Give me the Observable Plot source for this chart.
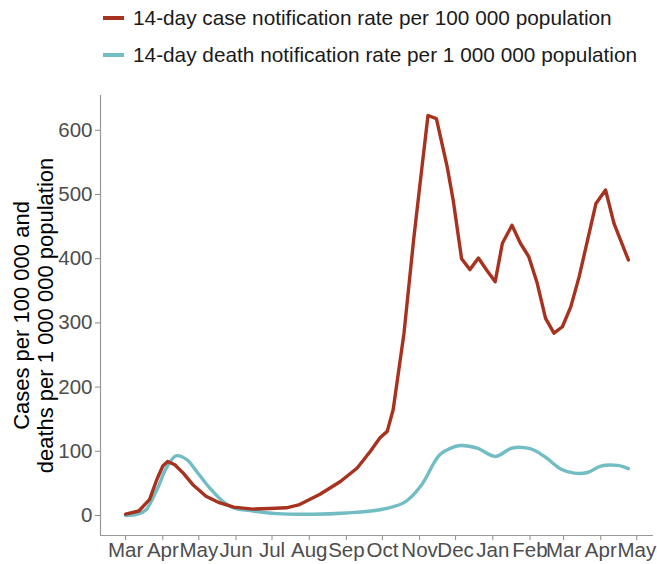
<!DOCTYPE html>
<html>
<head>
<meta charset="utf-8">
<script src="https://cdn.jsdelivr.net/npm/d3@7"></script>
<script src="https://cdn.jsdelivr.net/npm/@observablehq/plot@0.6"></script>
<style>
  html, body { margin: 0; padding: 0; background: #fff; }
  body { width: 657px; height: 564px; overflow: hidden; font-family: "Liberation Sans", Arial, sans-serif; }
  #legend { position: relative; height: 76px; font-size: 20.8px; color: #1a1a1a; }
  .row { position: absolute; left: 103px; display: flex; align-items: center; height: 24px; white-space: nowrap; }
  .sw { width: 21px; height: 4px; margin-right: 9px; }
</style>
</head>
<body>
<div id="legend"></div>
<div id="chart"></div>
<script>
const seriesNames = ["14-day case notification rate per 100 000 population", "14-day death notification rate per 1 000 000 population"];
const seriesColors = ["#a6321f", "#72bcc4"];

const caseDates = ["2020-03-01","2020-03-12","2020-03-21","2020-03-27","2020-04-01","2020-04-05","2020-04-11","2020-04-18","2020-04-26","2020-05-07","2020-05-18","2020-05-30","2020-06-15","2020-06-29","2020-07-13","2020-07-24","2020-08-10","2020-08-27","2020-09-10","2020-09-21","2020-09-29","2020-10-05","2020-10-10","2020-10-19","2020-10-27","2020-11-03","2020-11-08","2020-11-15","2020-11-24","2020-11-29","2020-12-06","2020-12-13","2020-12-20","2020-12-27","2021-01-03","2021-01-09","2021-01-17","2021-01-24","2021-01-31","2021-02-07","2021-02-14","2021-02-21","2021-02-28","2021-03-07","2021-03-14","2021-03-21","2021-03-28","2021-04-05","2021-04-12","2021-04-24"];
const caseValues = [2,7,25,56,77,84,79,66,48,30,20,13,10,11,12,17,33,53,74,100,121,131,165,284,429,543,623,618,543,491,400,383,401,382,364,424,452,424,403,362,307,284,294,325,372,429,486,507,455,398];

const deathDates = ["2020-03-01","2020-03-11","2020-03-18","2020-03-27","2020-04-04","2020-04-12","2020-04-21","2020-04-29","2020-05-10","2020-05-21","2020-05-30","2020-06-15","2020-07-05","2020-08-04","2020-09-01","2020-09-29","2020-10-19","2020-11-02","2020-11-13","2020-11-18","2020-11-27","2020-12-05","2020-12-19","2021-01-03","2021-01-17","2021-02-01","2021-02-13","2021-02-27","2021-03-10","2021-03-21","2021-04-01","2021-04-15","2021-04-24"];
const deathValues = [0,2,9,40,74,93,87,69,43,22,12,7,3,2,4,9,20,46,82,95,105,109,105,92,105,104,92,72,66,67,77,78,73];

const monthTicks = ["2020-03-01","2020-04-01","2020-05-01","2020-06-01","2020-07-01","2020-08-01","2020-09-01","2020-10-01","2020-11-01","2020-12-01","2021-01-01","2021-02-01","2021-03-01","2021-04-01","2021-05-01"];
const yTicks = [0, 100, 200, 300, 400, 500, 600];
const yLabel = "Cases per 100 000 and\ndeaths per 1 000 000 population";

// legend
const legend = document.getElementById("legend");
seriesNames.forEach((name, i) => {
  const row = document.createElement("div");
  row.className = "row";
  row.style.top = (6 + i * 37) + "px";
  const sw = document.createElement("span");
  sw.className = "sw";
  sw.style.background = seriesColors[i];
  const t = document.createElement("span");
  t.textContent = name;
  row.appendChild(sw);
  row.appendChild(t);
  legend.appendChild(row);
});

const cases = caseDates.map((d, i) => ({date: new Date(d), value: caseValues[i]}));
const deaths = deathDates.map((d, i) => ({date: new Date(d), value: deathValues[i]}));

// ggplot-like 5% expansion
const allDates = cases.concat(deaths).map(d => +d.date);
const dMin = d3.min(allDates), dMax = d3.max(allDates);
const dPad = (dMax - dMin) * 0.05;
const xDomain = [new Date(dMin - dPad), new Date(dMax + dPad)];
const allVals = caseValues.concat(deathValues);
const vMin = d3.min(allVals), vMax = d3.max(allVals);
const vPad = (vMax - vMin) * 0.05;
const yDomain = [vMin - vPad, vMax + vPad];

const chart = Plot.plot({
  width: 657,
  height: 488,
  marginLeft: 100,
  marginRight: 4,
  marginTop: 19,
  marginBottom: 29,
  style: {fontFamily: "'Liberation Sans', Arial, sans-serif", fontSize: "20.5px", background: "#fff", overflow: "visible"},
  x: {type: "utc", domain: xDomain},
  y: {domain: yDomain},
  marks: [
    Plot.axisX(monthTicks.map(d => new Date(d)), {tickSize: 5, tickPadding: 2, stroke: "#8a8a8a", fill: "#4d4d4d", tickFormat: d3.utcFormat("%b"), label: null, fontSize: 20.5}),
    Plot.axisY(yTicks, {tickSize: 5, tickPadding: 3, stroke: "#8a8a8a", fill: "#4d4d4d", label: null, fontSize: 20.5}),
    Plot.ruleX([xDomain[0]], {stroke: "#999", strokeWidth: 1.2}),
    Plot.ruleY([yDomain[0]], {stroke: "#999", strokeWidth: 1.2}),
    Plot.text([yLabel], {frameAnchor: "left", rotate: -90, dx: -67, textAnchor: "middle", lineAnchor: "middle", lineHeight: 1.1, fontSize: 22, fill: "#000"}),
    Plot.line(deaths, {x: "date", y: "value", stroke: seriesColors[1], strokeWidth: 3.4, curve: "catmull-rom"}),
    Plot.line(cases, {x: "date", y: "value", stroke: seriesColors[0], strokeWidth: 3.4, strokeLinejoin: "round"})
  ]
});
document.getElementById("chart").appendChild(chart);
</script>
</body>
</html>
